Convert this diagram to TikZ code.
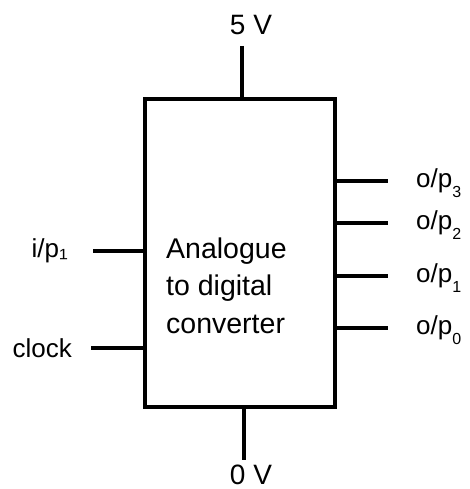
\documentclass[tikz,border=0pt]{standalone}
\usepackage{fontspec}
\setmainfont{Liberation Sans}
\usetikzlibrary{positioning}
\newcommand{\lowsub}[1]{\raisebox{-9.5pt}{\fontsize{16}{16}\selectfont #1}}

\begin{document}
\begin{tikzpicture}[x=1pt, y=-1pt,
    pin/.style={line width=4pt},
    adcbox/.style={draw, line width=4pt, minimum width=190pt, minimum height=308pt, inner sep=0pt},
    lbl/.style={font=\fontsize{26}{30}\selectfont, inner sep=0pt},
    rail/.style={font=\fontsize{28}{32}\selectfont, inner sep=0pt}
  ]
  \useasboundingbox (0,0) rectangle (469,489);
  \node[adcbox] (adc) at (240.3,253.3) {};
  \node[anchor=base west, align=left, inner sep=0pt, font=\fontsize{28.5}{37.5}\selectfont] (name) at (166,333) {Analogue\\to digital\\converter};

  \coordinate (vcc) at (242,46);
  \coordinate (gnd) at (244,460);
  \node[rail, anchor=base] (v5) at (251,35) {5 V};
  \node[rail, anchor=base] (v0) at (251,484) {0 V};
  \draw[pin] (vcc) -- (vcc |- adc.north);
  \draw[pin] (gnd |- adc.south) -- (gnd);

  \coordinate (ipin) at (93,251);
  \coordinate (clkin) at (91,348);
  \node[lbl, left=25pt of ipin] (ip) {i/p₁};
  \node[lbl, left=19pt of clkin] (clk) {clock};
  \draw[pin] (ipin) -- (ipin -| adc.west);
  \draw[pin] (clkin) -- (clkin -| adc.west);

  \foreach \y/\k in {181/3, 223/2, 276/1, 328/0} {
    \coordinate (op\k) at (388,\y);
    \draw[pin] (op\k -| adc.east) -- (op\k);
    \node[lbl, right=28pt of op\k, yshift=-2pt] (out\k) {o/p\lowsub{\k}};
  }
\end{tikzpicture}
\end{document}
